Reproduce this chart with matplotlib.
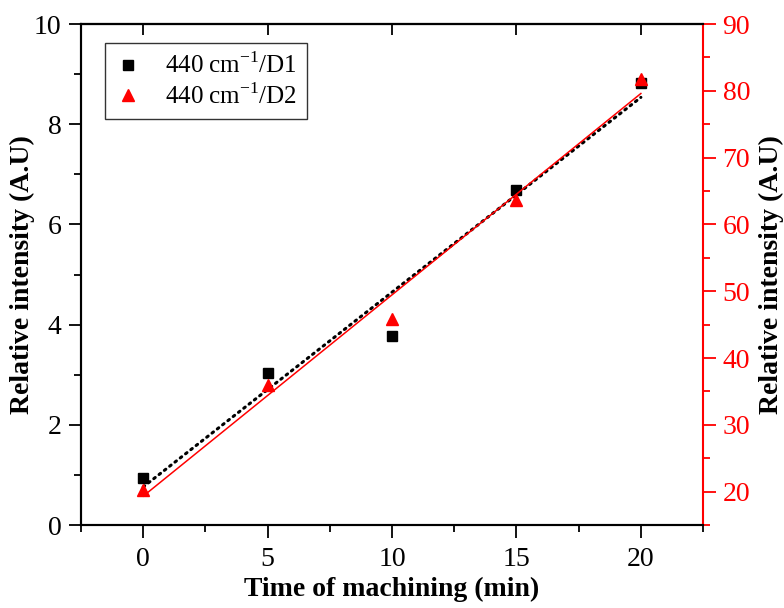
import numpy as np
import matplotlib
matplotlib.use("Agg")
import matplotlib.pyplot as plt
from matplotlib.ticker import MultipleLocator, NullLocator

plt.rcParams['font.family'] = ['Liberation Serif', 'DejaVu Serif']
plt.rcParams['mathtext.fontset'] = 'custom'
plt.rcParams['mathtext.rm'] = 'Liberation Serif'

# data
time_min = [0, 5, 10, 15, 20]
d1_values = [0.93, 3.03, 3.77, 6.69, 8.82]     # left axis
d2_values = [20.2, 35.9, 45.9, 63.6, 81.7]     # right axis
d1_label = "440 cm$^{\\mathregular{-1}}$/D1"
d2_label = "440 cm$^{\\mathregular{-1}}$/D2"

fig = plt.figure(figsize=(7.84, 6.08), dpi=100)
ax = fig.add_axes([0.1033, 0.1365, 0.7935, 0.8240])
ax2 = ax.twinx()

# linear fits
x = np.array(time_min, dtype=float)
k1, b1 = np.polyfit(x, d1_values, 1)
k2, b2 = np.polyfit(x, d2_values, 1)
xf = np.array([x.min(), x.max()])

ax.plot(xf, k1 * xf + b1, color='black', lw=2.2, linestyle=(0, (0.6, 1.6)),
        dash_capstyle='round', zorder=2)
h1, = ax.plot(x, d1_values, 's', color='black', ms=7.5, mec='black', zorder=3,
              label=d1_label)
ax2.plot(xf, k2 * xf + b2, color='red', lw=1.1, zorder=2)
h2, = ax2.plot(x, d2_values, '^', color='red', ms=9, zorder=3, label=d2_label)

ax.set_xlim(-2.5, 22.5)
ax.set_ylim(0, 10)
ax2.set_ylim(15, 90)

ax.xaxis.set_major_locator(MultipleLocator(5))
ax.xaxis.set_minor_locator(MultipleLocator(2.5))
ax.yaxis.set_major_locator(MultipleLocator(2))
ax.yaxis.set_minor_locator(MultipleLocator(1))
ax2.set_yticks([20, 30, 40, 50, 60, 70, 80, 90])
ax2.yaxis.set_minor_locator(MultipleLocator(5))

ax.tick_params(axis='both', which='major', direction='out', length=9, width=1.3,
               labelsize=20, pad=5)
ax.tick_params(axis='both', which='minor', direction='out', length=5, width=1.3)
ax.tick_params(axis='x', which='major', pad=7)

# top axis: inward major ticks, no labels
top = ax.secondary_xaxis('top')
top.xaxis.set_major_locator(MultipleLocator(5))
top.xaxis.set_minor_locator(NullLocator())
top.tick_params(direction='in', length=8, width=1.3, labeltop=False)
top.spines['top'].set_linewidth(1.5)

ax2.tick_params(axis='y', which='major', direction='out', length=9, width=1.3,
                labelsize=20, colors='red', pad=5)
ax2.tick_params(axis='y', which='minor', direction='out', length=5, width=1.3,
                colors='red')

for s in ['left', 'bottom', 'top']:
    ax.spines[s].set_linewidth(1.5)
    ax2.spines[s].set_linewidth(1.5)
ax.spines['right'].set_visible(False)
ax2.spines['right'].set_color('red')
ax2.spines['right'].set_linewidth(1.5)

ax.set_xlabel("Time of machining (min)", fontsize=20, fontweight='bold', labelpad=3)
ax.set_ylabel("Relative intensity (A.U)", fontsize=20, fontweight='bold', labelpad=-1)
ax2.set_ylabel("Relative intensity (A.U)", fontsize=20, fontweight='bold', color='black',
               labelpad=6)

leg = ax.legend(handles=[h1, h2], loc='upper left', bbox_to_anchor=(0.039, 0.963),
                borderaxespad=0, fontsize=18, frameon=True, fancybox=False,
                edgecolor='black', handlelength=1.0, handletextpad=1.0,
                borderpad=0.4, labelspacing=0.2)
leg.get_frame().set_linewidth(1.0)

fig.savefig("out.png", dpi=100)
